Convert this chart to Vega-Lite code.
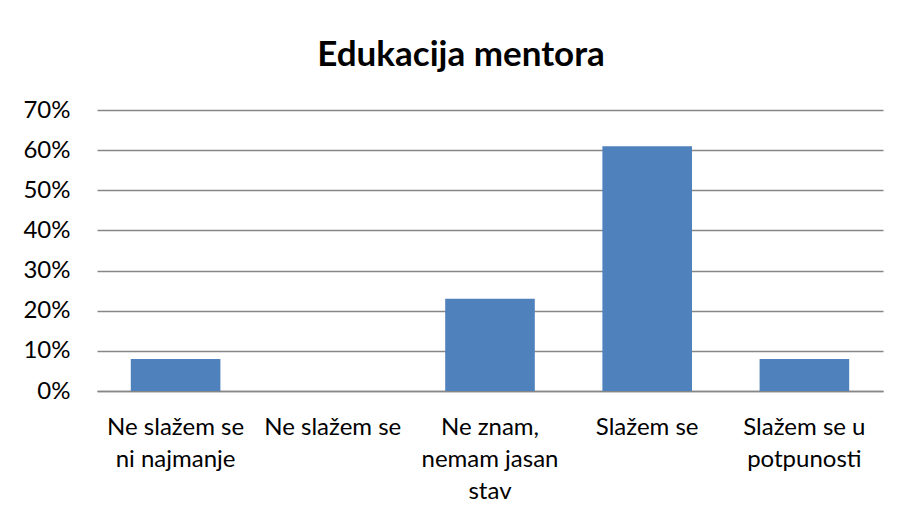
{
  "$schema": "https://vega.github.io/schema/vega-lite/v6.json",
  "autosize": "none",
  "width": 786,
  "height": 281,
  "padding": {"left": 97, "top": 110, "right": 17, "bottom": 124},
  "background": "white",
  "title": {
    "text": "Edukacija mentora",
    "font": "Lato",
    "fontSize": 35,
    "fontWeight": "bold",
    "color": "#000000",
    "anchor": "middle",
    "baseline": "alphabetic",
    "offset": -3,
    "dx": -29
  },
  "data": {
    "values": [
      {"odgovor": "Ne slažem se|ni najmanje", "udio": 0.08},
      {"odgovor": "Ne slažem se", "udio": 0.0},
      {"odgovor": "Ne znam,|nemam jasan|stav", "udio": 0.23},
      {"odgovor": "Slažem se", "udio": 0.61},
      {"odgovor": "Slažem se u|potpunosti", "udio": 0.08}
    ]
  },
  "mark": {"type": "bar", "color": "#4F81BD"},
  "encoding": {
    "x": {
      "field": "odgovor",
      "type": "nominal",
      "sort": null,
      "scale": {"paddingInner": 0.43, "paddingOuter": 0.215},
      "axis": {
        "title": null,
        "labelAngle": 0,
        "labelExpr": "split(datum.value, '|')",
        "labelFont": "Lato",
        "labelFontSize": 24,
        "labelColor": "#000000",
        "labelLineHeight": 32,
        "labelPadding": 24,
        "labelBaseline": "top",
        "ticks": false,
        "domain": true,
        "domainColor": "#878787",
        "domainWidth": 1.5,
        "grid": false
      }
    },
    "y": {
      "field": "udio",
      "type": "quantitative",
      "scale": {"domain": [0, 0.7], "nice": false},
      "axis": {
        "title": null,
        "values": [0, 0.1, 0.2, 0.3, 0.4, 0.5, 0.6, 0.7],
        "format": ".0%",
        "labelFont": "Lato",
        "labelFontSize": 24,
        "labelColor": "#000000",
        "labelPadding": 27,
        "ticks": false,
        "domain": false,
        "grid": true,
        "gridColor": "#878787",
        "gridWidth": 1.5
      }
    }
  },
  "config": {
    "view": {"stroke": null}
  }
}
